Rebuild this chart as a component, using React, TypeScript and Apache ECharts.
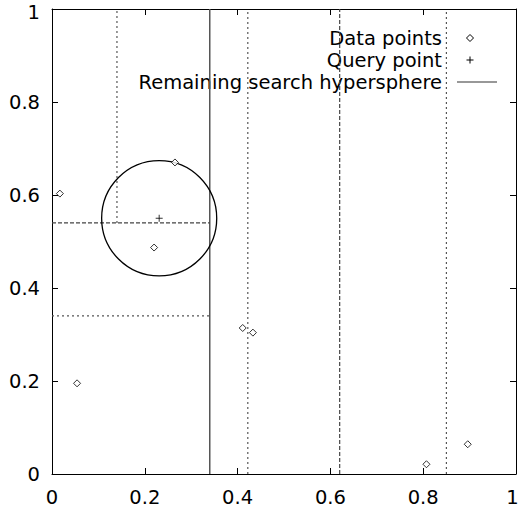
import React, { useEffect, useRef } from "react";
import * as echarts from "echarts";

// ---- data ----
const dataX = [0.017, 0.265, 0.22, 0.054, 0.411, 0.433, 0.807, 0.896];
const dataY = [0.603, 0.67, 0.487, 0.195, 0.314, 0.304, 0.021, 0.064];
const queryX = [0.231];
const queryY = [0.55];
const sphereRadius = [0.124];

// kd-tree split segments: x1, y1, x2, y2, style
const splitX1 = [0.34, 0.14, 0, 0, 0.422, 0.62, 0.85];
const splitY1 = [0, 0.54, 0.54, 0.34, 0, 0, 0];
const splitX2 = [0.34, 0.14, 0.34, 0.34, 0.422, 0.62, 0.85];
const splitY2 = [1, 1, 0.54, 0.34, 1, 1, 1];
const splitStyle = ["solid", "dotted", "dashed", "dotted", "dotted", "dashed", "dotted"];

const xTicks = [0, 0.2, 0.4, 0.6, 0.8, 1];
const yTicks = [0, 0.2, 0.4, 0.6, 0.8, 1];
const xTickLabels = ["0", "0.2", "0.4", "0.6", "0.8", "1"];
const yTickLabels = ["0", "0.2", "0.4", "0.6", "0.8", "1"];

const legendNames = ["Data points", "Query point", "Remaining search hypersphere"];

const FONT = "DejaVu Sans";
const FS = 19.5;

function labelFor(ticks: number[], labels: string[], edgeKey: string) {
  return (v: number) => {
    const i = ticks.findIndex((t) => Math.abs(t - v) < 1e-9);
    if (i < 0) return "";
    if (i === ticks.length - 1) return "{" + edgeKey + "|" + labels[i] + "}";
    return labels[i];
  };
}

export default function App() {
  const ref = useRef<HTMLDivElement>(null);
  useEffect(() => {
    if (!ref.current) return;
    const chart = echarts.init(ref.current, undefined, { renderer: "svg" });

    const styleMap: Record<string, any> = {
      solid: { color: "#555", width: 1.5, type: "solid" },
      dotted: { color: "#555", width: 1.2, type: [2, 3] },
      dashed: { color: "#444", width: 1.2, type: [4, 2] },
    };

    const splitSeries = splitX1.map((x1, i) => ({
      type: "line",
      name: "split" + i,
      data: [
        [x1, splitY1[i]],
        [splitX2[i], splitY2[i]],
      ],
      symbol: "none",
      silent: true,
      lineStyle: styleMap[splitStyle[i]],
      z: 1,
    }));

    const axisCommon = {
      type: "value",
      min: 0,
      max: 1,
      interval: 0.2,
      splitLine: { show: false },
      axisLine: { show: true, onZero: false, lineStyle: { color: "#000", width: 1 } },
      axisTick: { show: true, inside: true, length: 6, lineStyle: { color: "#000", width: 1 } },
    };

    const txt = { fontFamily: FONT, fontSize: FS, color: "#000" };

    const lx = 442;
    const ly = [38, 60, 82];
    const sx = 470;

    const option: any = {
      animation: false,
      backgroundColor: "#fff",
      grid: { left: 52, right: 3, top: 9, bottom: 35, containLabel: false, outerBoundsMode: "none" },
      xAxis: [
        {
          ...axisCommon,
          position: "bottom",
          axisLabel: {
            margin: 13,
            ...txt,
            formatter: labelFor(xTicks, xTickLabels, "r"),
            rich: { r: { ...txt, padding: [0, 7, 0, 0] } },
          },
        },
        { ...axisCommon, position: "top", axisLabel: { show: false } },
      ],
      yAxis: [
        {
          ...axisCommon,
          position: "left",
          axisLabel: {
            margin: 12,
            ...txt,
            formatter: labelFor(yTicks, yTickLabels, "t"),
            rich: { t: { ...txt, padding: [6, 0, 0, 0] } },
          },
        },
        { ...axisCommon, position: "right", axisLabel: { show: false } },
      ],
      series: [
        ...splitSeries,
        {
          type: "custom",
          name: legendNames[2],
          data: queryX.map((x, i) => [x, queryY[i], sphereRadius[i]]),
          encode: { x: 0, y: 1 },
          silent: true,
          z: 2,
          renderItem: (params: any, api: any) => {
            const c = api.coord([api.value(0), api.value(1)]);
            const s = api.size([api.value(2), api.value(2)]);
            return {
              type: "ellipse",
              shape: { cx: c[0], cy: c[1], rx: s[0], ry: s[1] },
              style: { fill: "none", stroke: "#000", lineWidth: 1.3 },
            };
          },
        },
        {
          type: "scatter",
          name: legendNames[0],
          data: dataX.map((x, i) => [x, dataY[i]]),
          symbol: "diamond",
          symbolSize: 7,
          itemStyle: { color: "#fff", borderColor: "#000", borderWidth: 1 },
          z: 3,
        },
        {
          type: "scatter",
          name: legendNames[1],
          data: queryX.map((x, i) => [x, queryY[i]]),
          symbol: "path://M0,5L10,5M5,0L5,10",
          symbolSize: 7,
          itemStyle: { color: "none", borderColor: "#000", borderWidth: 1 },
          z: 3,
        },
      ],
      graphic: [
        ...legendNames.map((n, i) => ({
          type: "text",
          x: lx,
          y: ly[i],
          style: {
            text: n,
            fontFamily: FONT,
            fontSize: FS,
            fill: "#000",
            align: "right",
            verticalAlign: "middle",
          },
        })),
        {
          type: "polygon",
          shape: {
            points: [
              [sx, ly[0] - 3.5],
              [sx + 3.5, ly[0]],
              [sx, ly[0] + 3.5],
              [sx - 3.5, ly[0]],
            ],
          },
          style: { fill: "#fff", stroke: "#000", lineWidth: 1 },
        },
        {
          type: "line",
          shape: { x1: sx - 3.5, y1: ly[1], x2: sx + 3.5, y2: ly[1] },
          style: { stroke: "#000", lineWidth: 1 },
        },
        {
          type: "line",
          shape: { x1: sx, y1: ly[1] - 3.5, x2: sx, y2: ly[1] + 3.5 },
          style: { stroke: "#000", lineWidth: 1 },
        },
        {
          type: "line",
          shape: { x1: 457, y1: ly[2], x2: 497, y2: ly[2] },
          style: { stroke: "#333", lineWidth: 1.2 },
        },
      ],
    };

    chart.setOption(option);
    return () => chart.dispose();
  }, []);

  return (
    <div
      ref={ref}
      style={{ position: "fixed", left: 0, top: 0, width: 519, height: 509, background: "#fff" }}
    />
  );
}
